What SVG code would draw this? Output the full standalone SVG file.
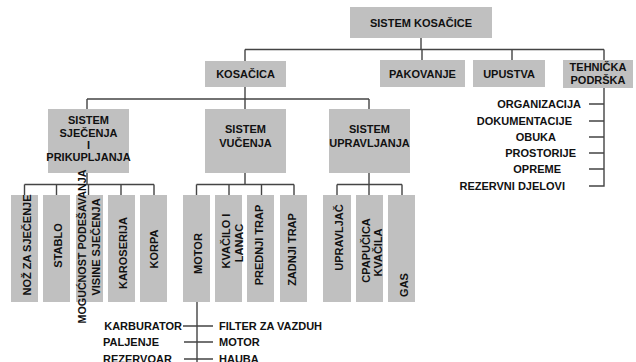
<svg xmlns="http://www.w3.org/2000/svg" width="636" height="362" viewBox="0 0 636 362">
  <style>
    .box { fill: #c0c0c0; }
    .lbl { font-family: "Liberation Sans", Arial, sans-serif; font-weight: bold; font-size: 11px; fill: #111; text-anchor: middle; }
    .lft { text-anchor: start; }
    .rgt { text-anchor: end; }
    .ln { stroke: #444; stroke-width: 1.4; fill: none; }
  </style>
  <rect width="636" height="362" fill="#fff"/>

  <!-- connectors -->
  <g id="connectors" class="ln">
    <!-- root to level 2 -->
    <path d="M421 38 V49.5 M245 49.5 H604 M245 49.5 V61 M422 49.5 V60 M512 49.5 V60 M604 49.5 V60"/>
    <!-- KOSACICA to level 3 -->
    <path d="M245 87 V99 M87 99 H369 M87 99 V109 M245 99 V109 M369 99 V109"/>
    <!-- cutting subsystem -->
    <path d="M87 173 V184.5 M24.5 184.5 H154 M24.5 184.5 V195 M56.5 184.5 V195 M88.5 184.5 V195 M121 184.5 V195 M154 184.5 V195"/>
    <!-- traction subsystem -->
    <path d="M245 173 V184.5 M196.5 184.5 H294 M196.5 184.5 V195 M229 184.5 V195 M261.5 184.5 V195 M294 184.5 V195"/>
    <!-- control subsystem -->
    <path d="M369 173 V184.5 M337 184.5 H402 M337 184.5 V195 M369 184.5 V195 M402 184.5 V195"/>
    <!-- technical support list -->
    <path d="M604 87 V186 H589 M589 104 H604 M589 121 H604 M589 137 H604 M589 153 H604 M589 169 H604"/>
    <!-- motor parts -->
    <path d="M197 302 V362 M183 326 H213 M184 342 H213 M184 359 H213"/>
  </g>

  <!-- level 1 -->
  <g id="n-root">
    <rect class="box" x="350" y="7" width="142" height="31"/>
    <text class="lbl" x="421" y="27">SISTEM KOSAČICE</text>
  </g>

  <!-- level 2 -->
  <g id="n-kosacica">
    <rect class="box" x="205" y="61" width="81" height="26"/>
    <text class="lbl" x="245.5" y="78">KOSAČICA</text>
  </g>
  <g id="n-pakovanje">
    <rect class="box" x="380" y="60" width="85" height="27"/>
    <text class="lbl" x="422.5" y="78">PAKOVANJE</text>
  </g>
  <g id="n-upustva">
    <rect class="box" x="473" y="60" width="72" height="27"/>
    <text class="lbl" x="509" y="78">UPUSTVA</text>
  </g>
  <g id="n-tehnicka">
    <rect class="box" x="563" y="60" width="70" height="28"/>
    <text class="lbl" x="598" y="71">TEHNIČKA</text>
    <text class="lbl" x="598" y="84">PODRŠKA</text>
  </g>

  <!-- technical support items -->
  <g id="n-support-items">
    <text class="lbl rgt" x="581" y="108">ORGANIZACIJA</text>
    <text class="lbl rgt" x="572" y="125">DOKUMENTACIJE</text>
    <text class="lbl rgt" x="556" y="141">OBUKA</text>
    <text class="lbl rgt" x="576" y="157">PROSTORIJE</text>
    <text class="lbl rgt" x="561" y="173">OPREME</text>
    <text class="lbl rgt" x="565" y="190">REZERVNI DJELOVI</text>
  </g>

  <!-- level 3 -->
  <g id="n-sjecenje">
    <rect class="box" x="48" y="109" width="81" height="64"/>
    <text class="lbl" x="88.5" y="124">SISTEM</text>
    <text class="lbl" x="88.5" y="137">SJEČENJA</text>
    <text class="lbl" x="88.5" y="149">I</text>
    <text class="lbl" x="88.5" y="161">PRIKUPLJANJA</text>
  </g>
  <g id="n-vucenje">
    <rect class="box" x="205" y="109" width="81" height="64"/>
    <text class="lbl" x="245.5" y="133">SISTEM</text>
    <text class="lbl" x="245.5" y="147">VUČENJA</text>
  </g>
  <g id="n-upravljanje">
    <rect class="box" x="329" y="109" width="81" height="64"/>
    <text class="lbl" x="369.5" y="133">SISTEM</text>
    <text class="lbl" x="369.5" y="147">UPRAVLJANJA</text>
  </g>

  <!-- level 4: cutting -->
  <g id="n-noz">
    <rect class="box" x="11" y="195" width="27" height="107"/>
    <text class="lbl" transform="translate(31 245) rotate(-90)">NOŽ ZA SJEČENJE</text>
  </g>
  <g id="n-stablo">
    <rect class="box" x="43" y="195" width="27" height="107"/>
    <text class="lbl" transform="translate(62 245.5) rotate(-90)">STABLO</text>
  </g>
  <g id="n-mogucnost">
    <rect class="box" x="76" y="195" width="27" height="107"/>
    <text class="lbl" transform="translate(86 246.5) rotate(-90)" textLength="154" lengthAdjust="spacingAndGlyphs">MOGUĆNOST PODEŠAVANJA</text>
    <text class="lbl" transform="translate(100 247) rotate(-90)">VISINE SJEČENJA</text>
  </g>
  <g id="n-karoserija">
    <rect class="box" x="108" y="195" width="27" height="107"/>
    <text class="lbl" transform="translate(127 253) rotate(-90)">KAROSERIJA</text>
  </g>
  <g id="n-korpa">
    <rect class="box" x="140" y="195" width="27" height="107"/>
    <text class="lbl" transform="translate(158 249) rotate(-90)">KORPA</text>
  </g>

  <!-- level 4: traction -->
  <g id="n-motor">
    <rect class="box" x="183" y="195" width="27" height="107"/>
    <text class="lbl" transform="translate(202 253.5) rotate(-90)">MOTOR</text>
  </g>
  <g id="n-kvacilo">
    <rect class="box" x="215" y="195" width="27" height="107"/>
    <text class="lbl" transform="translate(230 241) rotate(-90)">KVAČILO I</text>
    <text class="lbl" transform="translate(243 243) rotate(-90)">LANAC</text>
  </g>
  <g id="n-prednji">
    <rect class="box" x="247" y="195" width="27" height="107"/>
    <text class="lbl" transform="translate(263 245) rotate(-90)">PREDNJI TRAP</text>
  </g>
  <g id="n-zadnji">
    <rect class="box" x="280" y="195" width="27" height="107"/>
    <text class="lbl" transform="translate(296 249.5) rotate(-90)">ZADNJI TRAP</text>
  </g>

  <!-- level 4: control -->
  <g id="n-upravljac">
    <rect class="box" x="323" y="195" width="28" height="107"/>
    <text class="lbl" transform="translate(343 237.5) rotate(-90)">UPRAVLJAČ</text>
  </g>
  <g id="n-papucica">
    <rect class="box" x="356" y="195" width="27" height="107"/>
    <text class="lbl" transform="translate(370 250.5) rotate(-90)">CPAPUČICA</text>
    <text class="lbl" transform="translate(382 252.5) rotate(-90)">KVAČILA</text>
  </g>
  <g id="n-gas">
    <rect class="box" x="388" y="195" width="27" height="107"/>
    <text class="lbl" transform="translate(408 285) rotate(-90)">GAS</text>
  </g>

  <!-- motor parts -->
  <g id="n-motor-parts">
    <text class="lbl rgt" x="182" y="330">KARBURATOR</text>
    <text class="lbl lft" x="103" y="346">PALJENJE</text>
    <text class="lbl lft" x="103" y="363">REZERVOAR</text>
    <text class="lbl lft" x="219" y="330">FILTER ZA VAZDUH</text>
    <text class="lbl lft" x="219" y="346">MOTOR</text>
    <text class="lbl lft" x="219" y="363">HAUBA</text>
  </g>
</svg>
